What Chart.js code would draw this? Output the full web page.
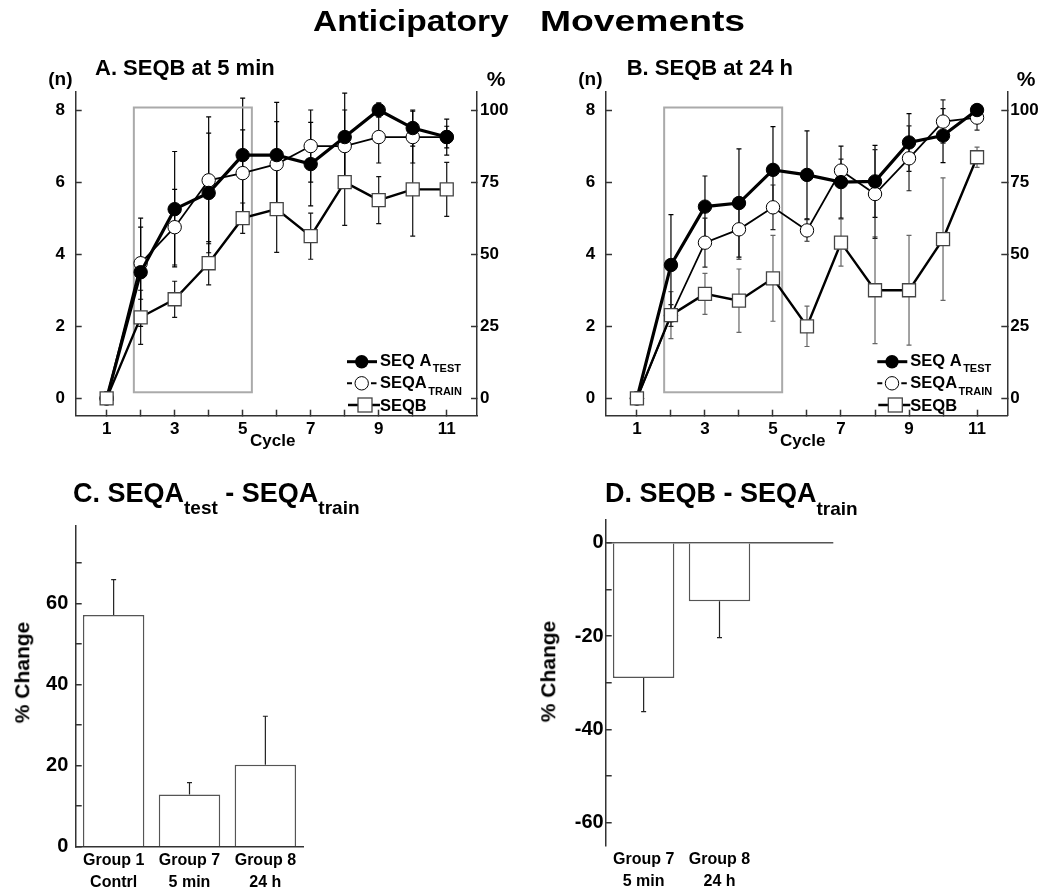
<!DOCTYPE html>
<html>
<head>
<meta charset="utf-8">
<script src="https://cdn.jsdelivr.net/npm/chart.js@4.4.0/dist/chart.umd.min.js"></script>
<style>
  body { margin: 0; background: #fff; }
  #page { position: relative; width: 1042px; height: 894px; overflow: hidden;
          font-family: "Liberation Sans", Arial, sans-serif; font-weight: bold; color: #000; }
  canvas { position: absolute; }
  .t { position: absolute; white-space: nowrap; line-height: 1; transform-origin: 0 0; }
  .t .sub { position: relative; }
</style>
</head>
<body>
<div id="page">
  <canvas id="chartA" width="521" height="460" style="left:0;top:0"></canvas>
  <canvas id="chartB" width="512" height="460" style="left:530px;top:0"></canvas>
  <canvas id="chartC" width="330" height="394" style="left:0;top:500px"></canvas>
  <canvas id="chartD" width="330" height="394" style="left:530px;top:500px"></canvas>
</div>
<script>
// axes / ticks
const cycles = [1, 2, 3, 4, 5, 6, 7, 8, 9, 10, 11];
const cycleLabels = ["1", "", "3", "", "5", "", "7", "", "9", "", "11"];
const nTicks = [0, 2, 4, 6, 8];
const pctTicks = [0, 25, 50, 75, 100];

// A. SEQB at 5 min  (n)
const aTest     = [0, 3.5, 5.25, 5.7, 6.75, 6.75, 6.5, 7.25, 8.0, 7.5, 7.25];
const aTestErr  = [0, 1.5, 1.6, 1.66, 1.58, 1.46, 1.16, 1.22, 0.2, 0.5, 0.5];
const aTrain    = [0, 3.75, 4.75, 6.05, 6.25, 6.5, 7.0, 7.0, 7.25, 7.25, 7.25];
const aTrainErr = [0, 1.0, 1.05, 1.76, 1.2, 1.18, 1.0, 1.0, 0.72, 0.72, 0.3];
const aSeqB     = [0, 2.25, 2.75, 3.75, 5.0, 5.25, 4.5, 6.0, 5.5, 5.8, 5.8];
const aSeqBErr  = [0, 0.75, 0.5, 0.6, 0.42, 1.2, 0.64, 1.2, 0.65, 1.3, 0.75];

// B. SEQB at 24 h  (n)
const bTest     = [0, 3.7, 5.32, 5.42, 6.34, 6.2, 6.0, 6.02, 7.1, 7.29, 8.0];
const bTestErr  = [0, 1.4, 0.85, 1.5, 1.2, 1.22, 1.0, 1.0, 0.8, 0.75, 0.15];
const bTrain    = [0, 2.3, 4.32, 4.69, 5.3, 4.66, 6.32, 5.67, 6.66, 7.68, 7.79];
const bTrainErr = [0, 0.3, 0.68, 0.83, 0.62, 0.3, 0.32, 1.23, 0.9, 0.6, 0.35];
const bSeqB     = [0, 2.31, 2.9, 2.71, 3.33, 2.0, 4.32, 3.0, 3.0, 4.42, 6.69];
const bSeqBErr  = [0, 0.65, 0.57, 0.88, 1.19, 0.56, 0.65, 1.48, 1.52, 1.7, 0.28];

// C. SEQA test - SEQA train  (% change)
const cLabels = [["Group 1", "Contrl"], ["Group 7", "5 min"], ["Group 8", "24 h"]];
const cValues = [57.2, 12.9, 20.2];
const cErr    = [8.7, 2.9, 12.0];
const cTicks  = [0, 10, 20, 30, 40, 50, 60, 70];

// D. SEQB - SEQA train  (% change)
const dLabels = [["Group 7", "5 min"], ["Group 8", "24 h"], ""];
const dValues = [-29.0, -12.5, null];
const dErr    = [7.2, 7.8, null];
const dTicks  = [-60, -50, -40, -30, -20, -10, 0];

Chart.defaults.font.family = '"Liberation Sans", Arial, sans-serif';
Chart.defaults.font.weight = "bold";
Chart.defaults.color = "#000";

function toPoints(vals) {
  return cycles.map((c, i) => ({ x: c, y: vals[i] }));
}

function drawErrors(chart) {
  let ctx = chart.ctx;
  chart.data.datasets.forEach((ds, i) => {
    if (!ds.errors) return;
    let meta = chart.getDatasetMeta(i);
    let ys = chart.scales[meta.yAxisID];
    ctx.save();
    ctx.strokeStyle = ds.errColor || "#000";
    ctx.lineWidth = 1.2;
    meta.data.forEach((el, j) => {
      let e = ds.errors[j];
      let d = ds.data[j];
      let v = typeof d === "object" && d !== null ? d.y : d;
      if (!e || v === null) return;
      let x = el.x;
      let ends = chart.config.type === "bar" ? [v, v >= 0 ? v + e : v - e] : [v - e, v + e];
      ctx.beginPath();
      ctx.moveTo(x, ys.getPixelForValue(ends[0]));
      ctx.lineTo(x, ys.getPixelForValue(ends[1]));
      let capEnds = chart.config.type === "bar" ? [ends[1]] : ends;
      capEnds.forEach(cv => {
        let py = ys.getPixelForValue(cv);
        ctx.moveTo(x - 2.5, py);
        ctx.lineTo(x + 2.5, py);
      });
      ctx.stroke();
    });
    ctx.restore();
  });
}

const errorBars = {
  id: "errorBars",
  beforeDatasetsDraw(chart) { if (chart.config.type === "line") drawErrors(chart); },
  afterDatasetsDraw(chart) { if (chart.config.type === "bar") drawErrors(chart); }
};

const focusBox = {
  id: "focusBox",
  beforeDatasetsDraw(chart, args, opts) {
    let { x, y } = chart.scales;
    let ctx = chart.ctx;
    let x0 = x.getPixelForValue(opts.x0), x1 = x.getPixelForValue(opts.x1);
    let y0 = y.getPixelForValue(opts.y0), y1 = y.getPixelForValue(opts.y1);
    ctx.save();
    ctx.strokeStyle = "#aaa";
    ctx.lineWidth = 2;
    ctx.strokeRect(x0, y1, x1 - x0, y0 - y1);
    ctx.restore();
  }
};

// legend with subscripts, drawn at the lower right of the plot
const seqLegend = {
  id: "seqLegend",
  afterDraw(chart) {
    let ctx = chart.ctx;
    let R = chart.chartArea.right;
    let tx = R - 97;
    ctx.save();
    ctx.strokeStyle = "#000";
    ctx.fillStyle = "#000";

    // SEQ A TEST
    ctx.lineWidth = 3;
    ctx.beginPath(); ctx.moveTo(R - 130, 361.7); ctx.lineTo(R - 100, 361.7); ctx.stroke();
    ctx.beginPath(); ctx.arc(R - 115.3, 361.7, 6.7, 0, Math.PI * 2); ctx.fill();

    // SEQA TRAIN
    ctx.lineWidth = 2;
    ctx.beginPath();
    ctx.moveTo(R - 130, 383.3); ctx.lineTo(R - 125, 383.3);
    ctx.moveTo(R - 106, 383.3); ctx.lineTo(R - 100.5, 383.3);
    ctx.stroke();
    ctx.lineWidth = 1;
    ctx.beginPath(); ctx.arc(R - 115.3, 383.3, 6.7, 0, Math.PI * 2);
    ctx.fillStyle = "#fff"; ctx.fill(); ctx.stroke();

    // SEQB
    ctx.lineWidth = 2.5;
    ctx.beginPath(); ctx.moveTo(R - 129, 405); ctx.lineTo(R - 97, 405); ctx.stroke();
    ctx.fillStyle = "#fff";
    ctx.fillRect(R - 119, 398, 14, 14);
    ctx.lineWidth = 1.3; ctx.strokeStyle = "#444";
    ctx.strokeRect(R - 119, 398, 14, 14);

    ctx.fillStyle = "#000";
    ctx.textBaseline = "alphabetic";
    let main = 'bold 16.5px "Liberation Sans", Arial, sans-serif';
    let sub = 'bold 11px "Liberation Sans", Arial, sans-serif';
    [["SEQ A", "TEST", 365.5, 372], ["SEQA", "TRAIN", 387.5, 395], ["SEQB", "", 410.5, 0]].forEach(r => {
      ctx.font = main;
      ctx.fillText(r[0], tx, r[2]);
      if (r[1]) {
        let w = ctx.measureText(r[0]).width;
        ctx.font = sub;
        ctx.fillText(r[1], tx + w + 1.5, r[3]);
      }
    });
    ctx.restore();
  }
};

function inwardGrid() {
  return { drawOnChartArea: false, tickLength: -6, tickColor: "#333", tickWidth: 1.5 };
}
const axisBorder = { color: "#333", width: 1.5 };

function makeLineChart(id, s, area) {
  return new Chart(document.getElementById(id), {
    type: "line",
    data: {
      datasets: [
        { label: "SEQB", data: toPoints(s.seqb), errors: s.seqbErr, errColor: s.errColors[2],
          borderColor: "#000", borderWidth: 2.4, pointStyle: "rect", pointRadius: 9.2,
          pointBackgroundColor: "#fff", pointBorderColor: "#444", pointBorderWidth: 1.3, order: 0 },
        { label: "SEQ A TEST", data: toPoints(s.test), errors: s.testErr, errColor: s.errColors[0],
          borderColor: "#000", borderWidth: 3.2, pointStyle: "circle", pointRadius: 6.7,
          pointBackgroundColor: "#000", pointBorderColor: "#000", pointBorderWidth: 1, order: 1 },
        { label: "SEQA TRAIN", data: toPoints(s.train), errors: s.trainErr, errColor: s.errColors[1],
          borderColor: "#000", borderWidth: 1.8, pointStyle: "circle", pointRadius: 6.7,
          pointBackgroundColor: "#fff", pointBorderColor: "#000", pointBorderWidth: 1, order: 2 }
      ]
    },
    options: {
      responsive: false,
      animation: false,
      events: [],
      layout: { padding: { top: area.top, left: 0, right: 0, bottom: 0 } },
      plugins: {
        legend: { display: false },
        tooltip: { enabled: false },
        focusBox: { x0: 1.8, x1: 5.27, y0: 0.17, y1: 8.07 }
      },
      scales: {
        x: {
          type: "linear", min: 0.09, max: 11.89,
          afterBuildTicks: sc => { sc.ticks = cycles.map(v => ({ value: v })); },
          afterFit: sc => { sc.height = area.xH; },
          ticks: { callback: (v, i) => cycleLabels[i], padding: 9.5, autoSkip: false, maxRotation: 0, font: { size: 17 } },
          grid: inwardGrid(),
          border: axisBorder
        },
        y: {
          position: "left", min: -0.48, max: 8.5,
          afterBuildTicks: sc => { sc.ticks = nTicks.map(v => ({ value: v })); },
          afterFit: sc => { sc.width = area.leftW; },
          ticks: { padding: 16.7, font: { size: 17 } },
          grid: inwardGrid(),
          border: axisBorder
        },
        y2: {
          position: "right", min: -6, max: 106.25,
          afterBuildTicks: sc => { sc.ticks = pctTicks.map(v => ({ value: v })); },
          afterFit: sc => { sc.width = area.rightW; },
          ticks: { padding: 9, font: { size: 17 } },
          grid: inwardGrid(),
          border: axisBorder
        }
      }
    },
    plugins: [errorBars, focusBox, seqLegend]
  });
}

makeLineChart("chartA",
  { test: aTest, testErr: aTestErr, train: aTrain, trainErr: aTrainErr, seqb: aSeqB, seqbErr: aSeqBErr,
    errColors: ["#000", "#000", "#111"] },
  { top: 92, xH: 44.3, leftW: 75.7, rightW: 44 });

makeLineChart("chartB",
  { test: bTest, testErr: bTestErr, train: bTrain, trainErr: bTrainErr, seqb: bSeqB, seqbErr: bSeqBErr,
    errColors: ["#000", "#222", "#666"] },
  { top: 92, xH: 44.3, leftW: 76, rightW: 34.7 });

function makeBarChart(id, labels, values, errs, ticks, yMin, yMax, opt) {
  return new Chart(document.getElementById(id), {
    type: "bar",
    data: {
      labels: labels,
      datasets: [{
        data: values, errors: errs, errColor: "#222",
        backgroundColor: "#fff", borderColor: "#555", borderWidth: 1.5,
        categoryPercentage: 1, barPercentage: 0.81
      }]
    },
    options: {
      responsive: false,
      animation: false,
      events: [],
      layout: { padding: { top: 20, left: 0, right: 26.7, bottom: 0 } },
      plugins: { legend: { display: false }, tooltip: { enabled: false } },
      scales: {
        x: {
          afterFit: sc => { sc.height = opt.xH; },
          ticks: { padding: 3, autoSkip: false, maxRotation: 0, font: { size: 16, lineHeight: 1.36 } },
          grid: { display: false, drawTicks: false },
          border: { display: opt.xBorder, color: "#333", width: 1.5 }
        },
        y: {
          min: yMin, max: yMax,
          afterBuildTicks: sc => { sc.ticks = ticks.map(v => ({ value: v })); },
          afterFit: sc => { sc.width = 75.7; },
          ticks: { callback: v => (v % 20 === 0 ? v : ""), padding: opt.yPad, font: { size: 20 } },
          grid: {
            drawOnChartArea: opt.zeroLine, tickLength: -6, tickColor: "#333", tickWidth: 1.5, lineWidth: 1.5,
            color: c => (c.tick && c.tick.value === 0 ? "#555" : "rgba(0,0,0,0)")
          },
          border: axisBorder
        }
      }
    },
    plugins: [errorBars]
  });
}

makeBarChart("chartC", cLabels, cValues, cErr, cTicks, 0, 79.3, { xH: 47.3, xBorder: true, yPad: 13.4, zeroLine: false });
makeBarChart("chartD", dLabels, dValues, dErr, dTicks, -65, 4.9, { xH: 48, xBorder: false, yPad: 8, zeroLine: true });

// html text
let page = document.getElementById("page");
function label(html, x, baseline, size, fitW) {
  let d = document.createElement("div");
  d.className = "t";
  d.style.fontSize = size + "px";
  d.style.left = x + "px";
  d.style.top = (baseline - 0.8465 * size) + "px";
  d.innerHTML = html;
  page.appendChild(d);
  if (fitW) d.style.transform = "scaleX(" + (fitW / d.offsetWidth) + ")";
  return d;
}
function sub(text, size, drop) {
  return '<span class="sub" style="font-size:' + size + 'px;top:' + drop + 'px">' + text + "</span>";
}
function vlabel(text, cx, cy, size) {
  let d = document.createElement("div");
  d.className = "t";
  d.style.fontSize = size + "px";
  d.textContent = text;
  page.appendChild(d);
  d.style.left = (cx - d.offsetWidth / 2) + "px";
  d.style.top = (cy - d.offsetHeight / 2) + "px";
  d.style.transformOrigin = "50% 50%";
  d.style.transform = "rotate(-90deg)";
}

label("Anticipatory", 312.7, 31.7, 30, 195.6);
label("Movements", 540, 31.7, 30, 205);

label("(n)", 48.3, 85, 19);
label("A. SEQB at 5 min", 95, 76, 22);
label("%", 486.7, 86, 21);
label("Cycle", 250, 446.7, 17);

label("(n)", 578.3, 85, 19);
label("B. SEQB at 24 h", 626.7, 76, 22);
label("%", 1016.7, 86, 21);
label("Cycle", 780, 446.7, 17);

label("C. SEQA" + sub("test", 19, 12) + " - SEQA" + sub("train", 19, 12), 73, 503.3, 27);
label("D. SEQB - SEQA" + sub("train", 19, 13), 605, 503.3, 27);
vlabel("% Change", 22, 672.5, 21);
vlabel("% Change", 547.5, 671, 21);
</script>
</body>
</html>
